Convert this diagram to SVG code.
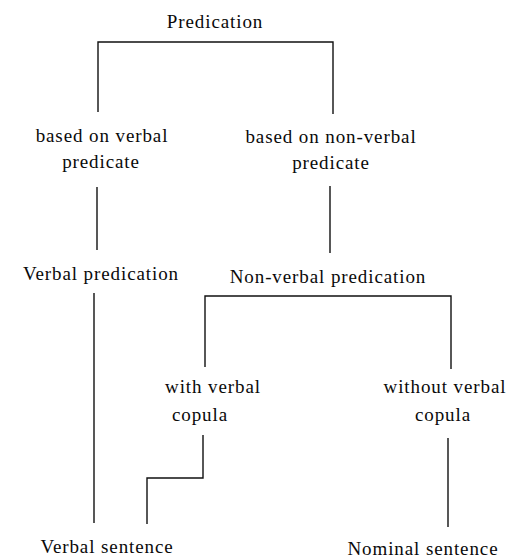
<svg xmlns="http://www.w3.org/2000/svg" width="510" height="559" viewBox="0 0 510 559">
<style>
text{font-family:"Liberation Serif","Times New Roman",serif;font-size:19px;fill:#0a0a0a;letter-spacing:0.9px;text-anchor:middle}
.c{fill:none;stroke:#111;stroke-width:1.4}
</style>
<rect width="510" height="559" fill="#fff"/>
<g id="connectors">
<path class="c" d="M98,112 V42 H333 V114"/>
<path class="c" d="M97,187 V250"/>
<path class="c" d="M330,186 V253"/>
<path class="c" d="M94,293 V523"/>
<path class="c" d="M205,367 V296 H451 V369"/>
<path class="c" d="M203,435 V478 H147 V524"/>
<path class="c" d="M448,438 V527"/>
</g>
<g id="predication"><text x="215" y="28">Predication</text></g>
<g id="verbal-pred-basis"><text x="102" y="142">based on verbal</text><text x="101" y="168">predicate</text></g>
<g id="nonverbal-pred-basis"><text x="331" y="143">based on non-verbal</text><text x="331" y="169">predicate</text></g>
<g id="verbal-predication"><text x="101" y="280">Verbal predication</text></g>
<g id="nonverbal-predication"><text x="328" y="283">Non-verbal predication</text></g>
<g id="with-copula"><text x="213" y="393">with verbal</text><text x="200" y="421">copula</text></g>
<g id="without-copula"><text x="445" y="393">without verbal</text><text x="443" y="421">copula</text></g>
<g id="verbal-sentence"><text x="107" y="553">Verbal sentence</text></g>
<g id="nominal-sentence"><text x="423" y="555">Nominal sentence</text></g>
</svg>
